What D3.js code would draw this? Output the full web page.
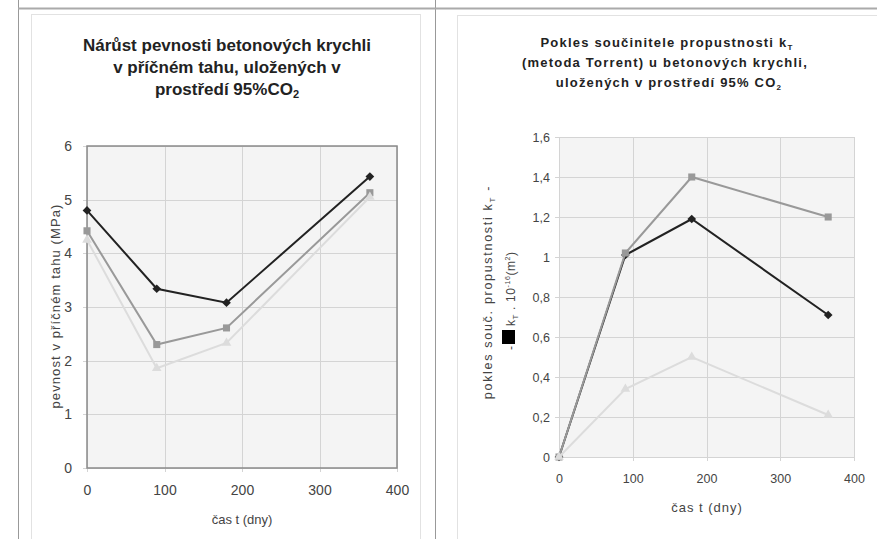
<!DOCTYPE html>
<html>
<head>
<meta charset="utf-8">
<script src="https://cdn.jsdelivr.net/npm/d3@7"></script>
<style>
  body{margin:0;background:#fff;}
  svg{display:block;font-family:"Liberation Sans",Arial,sans-serif;}
</style>
</head>
<body>
<svg id="chart" width="877" height="539"></svg>
<script>
// days of storage (shared x values)
const days = [0, 90, 180, 365];
const dayTicks = [0, 100, 200, 300, 400];

// left chart: tensile strength (MPa)
const strengthA = [4.8, 3.34, 3.08, 5.43];
const strengthB = [4.42, 2.3, 2.61, 5.13];
const strengthC = [4.25, 1.86, 2.33, 5.05];
const strengthTicks = [0, 1, 2, 3, 4, 5, 6];

// right chart: permeability kT decrease
const permA = [0, 1.01, 1.19, 0.71];
const permB = [0, 1.02, 1.40, 1.20];
const permC = [0, 0.34, 0.50, 0.21];
const permTicks = [0, 0.2, 0.4, 0.6, 0.8, 1, 1.2, 1.4, 1.6];

const svg = d3.select("#chart");

// table lines + chart frames
svg.append("line").attr("x1",18.5).attr("x2",18.5).attr("y1",0).attr("y2",539).attr("stroke","#999");
svg.append("line").attr("x1",435.5).attr("x2",435.5).attr("y1",0).attr("y2",539).attr("stroke","#999");
svg.append("line").attr("x1",18).attr("x2",877).attr("y1",8.5).attr("y2",8.5).attr("stroke","#aaa").attr("stroke-width",2);
svg.append("rect").attr("x",31.5).attr("y",14.5).attr("width",389).attr("height",540)
   .attr("fill","none").attr("stroke","#e2e2e2");
svg.append("rect").attr("x",457.5).attr("y",15.5).attr("width",440).attr("height",540)
   .attr("fill","none").attr("stroke","#e2e2e2");

const seriesStyle = [
    {color:"#222", symbol:d3.symbolSquare, size:38, rotate:45},
    {color:"#999", symbol:d3.symbolSquare, size:50, rotate:0},
    {color:"#dcdcdc", symbol:d3.symbolTriangle, size:40, rotate:0}
];

function drawChart(cfg){
    let g = svg.append("g");
    let x = d3.scaleLinear().domain([0,400]).range([cfg.left,cfg.right]);
    let y = d3.scaleLinear().domain([0,cfg.ymax]).range([cfg.bottom,cfg.top]);
    g.append("rect").attr("x",cfg.left).attr("y",cfg.top)
        .attr("width",cfg.right-cfg.left).attr("height",cfg.bottom-cfg.top)
        .attr("fill","#f4f4f4");
    // grid
    g.append("g").selectAll("line").data(cfg.yTicks).join("line")
        .attr("x1",cfg.left-4).attr("x2",cfg.right)
        .attr("y1",d=>Math.round(y(d))+0.5).attr("y2",d=>Math.round(y(d))+0.5)
        .attr("stroke","#d4d4d4");
    g.append("g").selectAll("line").data(dayTicks).join("line")
        .attr("y1",cfg.top).attr("y2",cfg.bottom+4)
        .attr("x1",d=>Math.round(x(d))+0.5).attr("x2",d=>Math.round(x(d))+0.5)
        .attr("stroke","#d4d4d4");
    if (cfg.border){
        g.append("rect").attr("x",cfg.left).attr("y",cfg.top)
            .attr("width",cfg.right-cfg.left).attr("height",cfg.bottom-cfg.top)
            .attr("fill","none").attr("stroke","#8a8a8a").attr("stroke-width",1.5);
    }
    // axes (labels only)
    let ya = g.append("g").attr("transform","translate("+cfg.left+",0)")
        .call(d3.axisLeft(y).tickValues(cfg.yTicks).tickSize(0).tickPadding(cfg.yPad)
            .tickFormat(cfg.yFormat));
    let xa = g.append("g").attr("transform","translate(0,"+cfg.bottom+")")
        .call(d3.axisBottom(x).tickValues(dayTicks).tickSize(0).tickPadding(cfg.xPad));
    [ya,xa].forEach(function(a){
        a.select(".domain").remove();
        a.selectAll("text").attr("fill","#444").attr("font-size",cfg.tickFont)
            .attr("font-family","Liberation Sans, Arial, sans-serif");
    });
    // series
    cfg.series.forEach(function(vals,i){
        let st = seriesStyle[i];
        let pts = days.map((d,k)=>[d,vals[k]]);
        g.append("path").datum(pts)
            .attr("fill","none").attr("stroke",st.color).attr("stroke-width",2)
            .attr("d",d3.line().x(d=>x(d[0])).y(d=>y(d[1])));
        g.append("g").selectAll("path").data(pts).join("path")
            .attr("transform",d=>"translate("+x(d[0])+","+y(d[1])+") rotate("+st.rotate+")")
            .attr("d",d3.symbol().type(st.symbol).size(st.size))
            .attr("fill",st.color);
    });
    // x title
    g.append("text").attr("x",cfg.xTitleX).attr("y",cfg.xTitleY)
        .attr("text-anchor","middle").attr("font-size",cfg.xTitleFont)
        .attr("letter-spacing",cfg.xTitleSpacing).attr("fill","#444")
        .text("čas t (dny)");
    return {g:g,x:x,y:y};
}

// ---- left chart
let left = drawChart({
    left:87, right:397, top:146, bottom:468, ymax:6,
    yTicks:strengthTicks, yFormat:d3.format("d"), yPad:15, xPad:17, tickFont:14,
    series:[strengthA,strengthB,strengthC], border:true,
    xTitleX:242, xTitleY:524, xTitleFont:13, xTitleSpacing:0
});
let t1 = svg.append("text").attr("text-anchor","middle").attr("font-weight","bold")
    .attr("font-size",17).attr("fill","#222");
t1.append("tspan").attr("x",227).attr("y",51).text("Nárůst pevnosti betonových krychli");
t1.append("tspan").attr("x",227).attr("y",73).text("v příčném tahu, uložených v");
let l3 = t1.append("tspan").attr("x",227).attr("y",95);
l3.append("tspan").text("prostředí 95%CO");
l3.append("tspan").attr("font-size",11).attr("dy",3).text("2");

svg.append("text").attr("transform","translate(60,306) rotate(-90)")
    .attr("text-anchor","middle").attr("font-size",13).attr("letter-spacing",1.1)
    .attr("fill","#444").text("pevnost v příčném tahu (MPa)");

// ---- right chart
let right = drawChart({
    left:559, right:854, top:137, bottom:457, ymax:1.6,
    yTicks:permTicks, yFormat:d=>d3.format("~g")(d).replace(".",","), yPad:9, xPad:17, tickFont:12.5,
    series:[permA,permB,permC], border:false,
    xTitleX:707, xTitleY:512, xTitleFont:13, xTitleSpacing:1
});
let t2 = svg.append("text").attr("text-anchor","middle").attr("font-weight","bold")
    .attr("font-size",13).attr("letter-spacing",1.2).attr("fill","#222");
let r1 = t2.append("tspan").attr("x",667).attr("y",47);
r1.append("tspan").text("Pokles součinitele propustnosti k");
r1.append("tspan").attr("font-size",8).attr("dy",3).text("T");
t2.append("tspan").attr("x",665).attr("y",67).text("(metoda Torrent) u betonových krychli,");
let r3 = t2.append("tspan").attr("x",669).attr("y",87);
r3.append("tspan").text("uložených v prostředí 95% CO");
r3.append("tspan").attr("font-size",8).attr("dy",3).text("2");

// rotated y title, two lines, with the black legend square
let yt = svg.append("g").attr("transform","rotate(-90)");
let yl1 = yt.append("text").attr("x",-292).attr("y",492).attr("text-anchor","middle")
    .attr("font-size",12.5).attr("letter-spacing",1.7).attr("fill","#444");
yl1.append("tspan").text("pokles souč. propustnosti k");
yl1.append("tspan").attr("font-size",8).attr("dy",3).text("T");
yl1.append("tspan").attr("dy",-3).text(" -");
yt.append("text").attr("x",-350).attr("y",515).attr("font-size",12).attr("fill","#444").text("-");
yt.append("rect").attr("x",-344).attr("y",502).attr("width",14).attr("height",13).attr("fill","#000");
let yl2 = yt.append("text").attr("x",-326).attr("y",515)
    .attr("font-size",12).attr("letter-spacing",0.6).attr("fill","#444");
yl2.append("tspan").text("k");
yl2.append("tspan").attr("font-size",8).attr("dy",3).text("T");
yl2.append("tspan").attr("dy",-3).text(" . 10");
yl2.append("tspan").attr("font-size",7).attr("dy",-5).text("-16");
yl2.append("tspan").attr("dy",5).text("(m");
yl2.append("tspan").attr("font-size",7).attr("dy",-5).text("2");
yl2.append("tspan").attr("dy",5).text(")");
</script>
</body>
</html>
